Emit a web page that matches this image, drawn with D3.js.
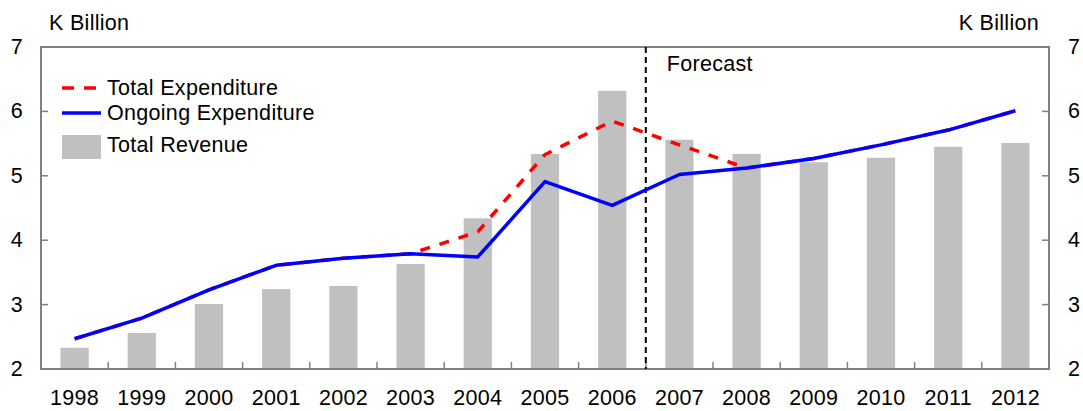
<!DOCTYPE html>
<html>
<head>
<meta charset="utf-8">
<script src="https://cdn.jsdelivr.net/npm/d3@7"></script>
<style>
  body { margin: 0; background: #fff; }
  svg { display: block; font-family: "Liberation Sans", Arial, sans-serif; }
</style>
</head>
<body>
<div id="chart"></div>
<script>
const years = ["1998", "1999", "2000", "2001", "2002", "2003", "2004", "2005",
  "2006", "2007", "2008", "2009", "2010", "2011", "2012"];
const totalRevenue = [2.33, 2.56, 3.01, 3.24, 3.29, 3.63, 4.34, 5.34, 6.32,
  5.56, 5.34, 5.21, 5.28, 5.45, 5.51];
const ongoingExp = [2.47, 2.79, 3.23, 3.61, 3.72, 3.79, 3.74, 4.91, 4.54,
  5.02, 5.12, 5.27, 5.48, 5.71, 6.01];
const totalExp = [2.47, 2.79, 3.23, 3.61, 3.72, 3.79, 4.13, 5.33, 5.85,
  5.48, 5.12, 5.27, 5.48, 5.71, 6.01];
const yTicks = [2, 3, 4, 5, 6, 7];
const forecastFrom = "2007";

const width = 1083, height = 411;
const margin = { top: 47, right: 34, bottom: 42, left: 41 };
const axisColor = "#808080";
const fontSize = 21.5;

const svg = d3.select("#chart").append("svg")
  .attr("width", width)
  .attr("height", height)
  .attr("viewBox", [0, 0, width, height])
  .attr("font-size", fontSize)
  .attr("letter-spacing", 0.3);

const x = d3.scaleBand()
  .domain(years)
  .range([margin.left, width - margin.right])
  .paddingInner(0.58)
  .paddingOuter(0.29);

const y = d3.scaleLinear()
  .domain([2, 7])
  .range([height - margin.bottom, margin.top]);

const cx = (d) => x(d) + x.bandwidth() / 2;
const step = x.step();

// bars
svg.append("g")
  .selectAll("rect")
  .data(totalRevenue)
  .join("rect")
  .attr("x", (d, i) => x(years[i]))
  .attr("y", (d) => y(d))
  .attr("width", x.bandwidth())
  .attr("height", (d) => y(2) - y(d))
  .attr("fill", "#c0c0c0");

// frame
const x0 = margin.left, x1 = width - margin.right;
const y0 = y(2), y1 = y(7);
svg.append("rect")
  .attr("x", x0).attr("y", y1)
  .attr("width", x1 - x0).attr("height", y0 - y1)
  .attr("fill", "none")
  .attr("stroke", axisColor)
  .attr("stroke-width", 2);

// y ticks, both sides pointing inward
const ticksG = svg.append("g").attr("stroke", axisColor).attr("stroke-width", 1.5);
ticksG.selectAll(".yl").data(yTicks.slice(1, -1)).join("line")
  .attr("x1", x0).attr("x2", x0 + 7)
  .attr("y1", (d) => y(d)).attr("y2", (d) => y(d));
ticksG.selectAll(".yr").data(yTicks.slice(1, -1)).join("line")
  .attr("x1", x1).attr("x2", x1 - 7)
  .attr("y1", (d) => y(d)).attr("y2", (d) => y(d));
// x ticks at category boundaries
ticksG.selectAll(".xt").data(years.slice(1)).join("line")
  .attr("x1", (d) => cx(d) - step / 2).attr("x2", (d) => cx(d) - step / 2)
  .attr("y1", y0).attr("y2", y0 - 7);

// y labels
svg.append("g")
  .selectAll("text").data(yTicks).join("text")
  .attr("x", 23).attr("y", (d) => y(d) + 7)
  .attr("text-anchor", "end")
  .text((d) => d);
svg.append("g")
  .selectAll("text").data(yTicks).join("text")
  .attr("x", 1068).attr("y", (d) => y(d) + 7)
  .attr("text-anchor", "start")
  .text((d) => d);

// x labels
svg.append("g")
  .selectAll("text").data(years).join("text")
  .attr("x", (d) => cx(d)).attr("y", 405)
  .attr("text-anchor", "middle")
  .text((d) => d);

// unit labels
svg.append("text").attr("x", 49).attr("y", 30).text("K Billion");
svg.append("text").attr("x", 1039).attr("y", 30)
  .attr("text-anchor", "end").text("K Billion");

// forecast divider
const fx = cx(forecastFrom) - step / 2;
svg.append("line")
  .attr("x1", fx).attr("x2", fx)
  .attr("y1", y1).attr("y2", y0)
  .attr("stroke", "#000")
  .attr("stroke-width", 2)
  .attr("stroke-dasharray", "6,4");
svg.append("text").attr("x", fx + 21).attr("y", 71).text("Forecast");

// lines
const line = d3.line()
  .x((d, i) => cx(years[i]))
  .y((d) => y(d));

svg.append("path")
  .datum(totalExp)
  .attr("d", line)
  .attr("fill", "none")
  .attr("stroke", "#ff0000")
  .attr("stroke-width", 3.5)
  .attr("stroke-dasharray", "10,10");

svg.append("path")
  .datum(ongoingExp)
  .attr("d", line)
  .attr("fill", "none")
  .attr("stroke", "#0000ff")
  .attr("stroke-width", 3.5)
  .attr("stroke-linejoin", "round");

// legend
const legend = svg.append("g");
legend.append("line")
  .attr("x1", 62).attr("x2", 101).attr("y1", 88).attr("y2", 88)
  .attr("stroke", "#ff0000").attr("stroke-width", 3.5)
  .attr("stroke-dasharray", "12,10");
legend.append("text").attr("x", 107).attr("y", 95).text("Total Expenditure");
legend.append("line")
  .attr("x1", 62).attr("x2", 101).attr("y1", 113).attr("y2", 113)
  .attr("stroke", "#0000ff").attr("stroke-width", 3.5);
legend.append("text").attr("x", 107).attr("y", 120).text("Ongoing Expenditure");
legend.append("rect")
  .attr("x", 62).attr("y", 135).attr("width", 39).attr("height", 24)
  .attr("fill", "#c0c0c0");
legend.append("text").attr("x", 107).attr("y", 152).text("Total Revenue");
</script>
</body>
</html>
